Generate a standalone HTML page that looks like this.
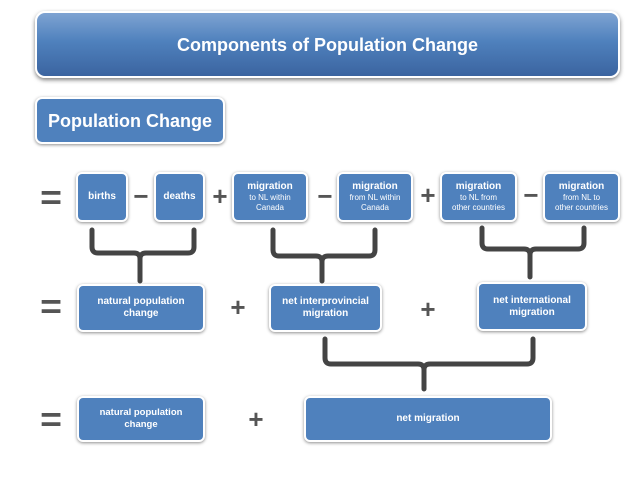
<!DOCTYPE html>
<html><head><meta charset="utf-8"><style>
*{margin:0;padding:0;box-sizing:border-box}
body{width:640px;height:480px;background:#fff;position:relative;overflow:hidden;font-family:"Liberation Sans",sans-serif}
.b{position:absolute;background:#4f81bd;border:2px solid #fff;border-radius:6px;box-shadow:0 1px 3px rgba(0,0,0,.45);color:#fff;font-weight:bold;display:flex;flex-direction:column;align-items:center;justify-content:center;text-align:center;font-size:10px;line-height:12px}
.b small{font-size:8px;font-weight:normal;line-height:10px}
.op{position:absolute;color:#555;font-weight:bold;font-size:26px;line-height:26px;transform:translate(-50%,-50%)}
.eq{font-size:34px;transform:translate(-50%,-50%) scaleX(1.1)}
svg{position:absolute;left:0;top:0}
</style></head><body>
<div class="b" style="left:35px;top:11px;width:585px;height:67px;border-radius:10px;background:linear-gradient(#7ea3d2,#4f81bd 45%,#3b64a0);font-size:18px;box-shadow:0 2px 4px rgba(0,0,0,.5)">Components of Population Change</div>
<div class="b" style="left:35px;top:97px;width:190px;height:47px;font-size:18px;border-radius:7px">Population Change</div>

<div class="b" style="left:76px;top:172px;width:52px;height:50px">births</div>
<div class="b" style="left:154px;top:172px;width:51px;height:50px">deaths</div>
<div class="b" style="left:232px;top:172px;width:76px;height:50px">migration<small>to NL within<br>Canada</small></div>
<div class="b" style="left:337px;top:172px;width:76px;height:50px">migration<small>from NL within<br>Canada</small></div>
<div class="b" style="left:440px;top:172px;width:77px;height:50px">migration<small>to NL from<br>other countries</small></div>
<div class="b" style="left:543px;top:172px;width:77px;height:50px">migration<small>from NL to<br>other countries</small></div>

<div class="b" style="left:77px;top:284px;width:128px;height:48px">natural population<br>change</div>
<div class="b" style="left:269px;top:284px;width:113px;height:48px">net interprovincial<br>migration</div>
<div class="b" style="left:477px;top:282px;width:110px;height:49px">net international<br>migration</div>

<div class="b" style="left:77px;top:396px;width:128px;height:46px;font-size:9.5px">natural population<br>change</div>
<div class="b" style="left:304px;top:396px;width:248px;height:46px">net migration</div>

<div class="op eq" style="left:51px;top:198px">=</div>
<div class="op" style="left:141px;top:196px">−</div>
<div class="op" style="left:220px;top:196px">+</div>
<div class="op" style="left:325px;top:196px">−</div>
<div class="op" style="left:428px;top:195px">+</div>
<div class="op" style="left:531px;top:195px">−</div>
<div class="op eq" style="left:51px;top:307px">=</div>
<div class="op" style="left:238px;top:307px">+</div>
<div class="op" style="left:428px;top:309px">+</div>
<div class="op eq" style="left:51px;top:420px">=</div>
<div class="op" style="left:256px;top:419px">+</div>

<svg width="640" height="480" fill="none" stroke="#444" stroke-width="5" stroke-linecap="round" stroke-linejoin="round">
<path d="M92 230 V247 Q92 253 98 253 H134 Q140 253 140 259 V281 M140 259 Q140 253 146 253 H188 Q194 253 194 247 V230"/>
<path d="M273 230 V250 Q273 256 279 256 H316 Q322 256 322 262 V281 M322 262 Q322 256 328 256 H369 Q375 256 375 250 V230"/>
<path d="M482 228 V243 Q482 249 488 249 H524 Q530 249 530 255 V277 M530 255 Q530 249 536 249 H578 Q584 249 584 243 V228"/>
<path d="M325 339 V358 Q325 364 331 364 H418 Q424 364 424 370 V389 M424 370 Q424 364 430 364 H527 Q533 364 533 358 V339"/>
</svg>
</body></html>
